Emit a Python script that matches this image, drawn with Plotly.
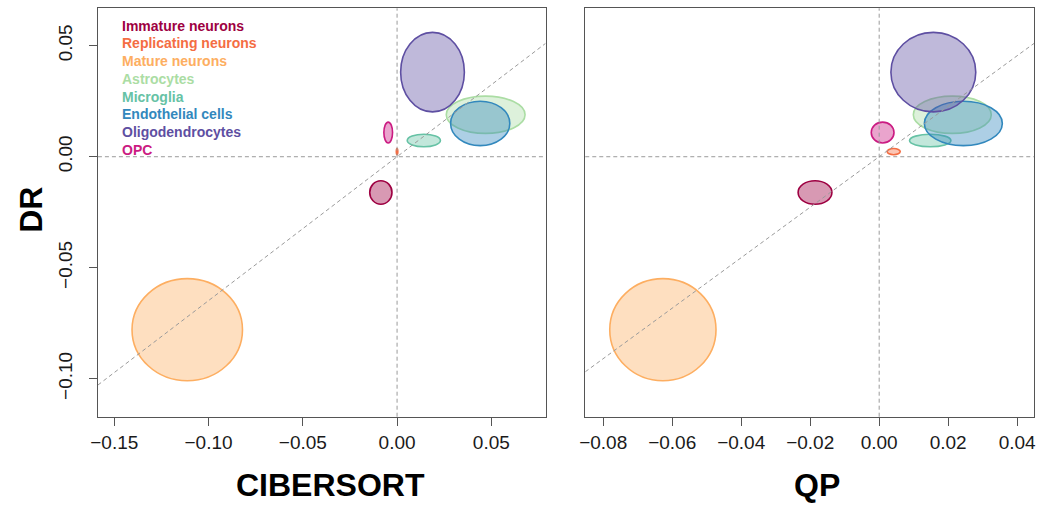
import plotly.graph_objects as go

# ---------------- data ----------------
cell_types = ["Immature neurons", "Replicating neurons", "Mature neurons", "Astrocytes",
              "Microglia", "Endothelial cells", "Oligodendrocytes", "OPC"]
colors = ["#9E0142", "#F46D43", "#FDAE61", "#ABDDA4", "#66C2A5", "#3288BD", "#5E4FA2", "#CB1B82"]

dr_center = [-0.0161, 0.0023, -0.0779, 0.0189, 0.0073, 0.0150, 0.0381, 0.0109]
dr_halfwidth = [0.0053, 0.0014, 0.0230, 0.0084, 0.0028, 0.0100, 0.0179, 0.0047]

cibersort_center = [-0.0086, 0.0000, -0.1113, 0.0470, 0.0142, 0.0441, 0.0188, -0.0047]
cibersort_halfwidth = [0.0059, 0.0004, 0.0293, 0.0209, 0.0088, 0.0157, 0.0169, 0.0023]

qp_center = [-0.0186, 0.0042, -0.0627, 0.0212, 0.0148, 0.0244, 0.0157, 0.0010]
qp_halfwidth = [0.0049, 0.0019, 0.0154, 0.0113, 0.0060, 0.0113, 0.0123, 0.0033]

fit_slope_cibersort = 0.648
fit_slope_qp = 1.137

x1_ticks = [-0.15, -0.10, -0.05, 0.00, 0.05]
x2_ticks = [-0.08, -0.06, -0.04, -0.02, 0.00, 0.02, 0.04]
y_ticks = [-0.10, -0.05, 0.00, 0.05]

x1_range = [-0.1587, 0.0788]
x2_range = [-0.0852, 0.0449]
y_range = [-0.1171, 0.06685]


def fmt(v):
    s = f"{abs(v):.2f}"
    return ("\u2212" + s) if v < -1e-12 else s


def rgba(hexc, a):
    h = hexc.lstrip("#")
    r, g, b = int(h[0:2], 16), int(h[2:4], 16), int(h[4:6], 16)
    return f"rgba({r},{g},{b},{a})"


W, H = 1043, 505
fig = go.Figure()

# invisible traces to anchor both subplots
fig.add_trace(go.Scatter(x=[None], y=[None], xaxis="x", yaxis="y", showlegend=False))
fig.add_trace(go.Scatter(x=[None], y=[None], xaxis="x2", yaxis="y2", showlegend=False))

shapes = []
for xr, yr, cx_list, hw_list in [("x", "y", cibersort_center, cibersort_halfwidth),
                                 ("x2", "y2", qp_center, qp_halfwidth)]:
    for i in range(len(cell_types)):
        shapes.append(dict(
            type="circle", xref=xr, yref=yr,
            x0=cx_list[i] - hw_list[i], x1=cx_list[i] + hw_list[i],
            y0=dr_center[i] - dr_halfwidth[i], y1=dr_center[i] + dr_halfwidth[i],
            fillcolor=rgba(colors[i], 0.4),
            line=dict(color=colors[i], width=1.6),
            layer="above"))

dash_line = dict(color="#9a9a9a", width=1, dash="4px,3px")
for xr, yr, rng, slope in [("x", "y", x1_range, fit_slope_cibersort),
                           ("x2", "y2", x2_range, fit_slope_qp)]:
    shapes.append(dict(type="line", xref=xr, yref=yr + " domain", x0=0, x1=0, y0=0, y1=1,
                       line=dash_line, layer="above"))
    shapes.append(dict(type="line", xref=xr + " domain", yref=yr, x0=0, x1=1, y0=0, y1=0,
                       line=dash_line, layer="above"))
    shapes.append(dict(type="line", xref=xr, yref=yr, x0=rng[0], x1=rng[1],
                       y0=slope * rng[0], y1=slope * rng[1],
                       line=dash_line, layer="above"))

annotations = []
legend_x_px = 114
legend_y0_px = 25.7
legend_step_px = 17.75
for i, name in enumerate(cell_types):
    annotations.append(dict(
        text=f"<b>{name}</b>", xref="paper", yref="paper",
        x=legend_x_px / W, y=1 - (legend_y0_px + i * legend_step_px) / H,
        xanchor="left", yanchor="middle", showarrow=False,
        font=dict(family="Liberation Sans, Arial", size=14, color=colors[i])))

title_font = dict(family="Liberation Sans, Arial", size=32, color="#000000")
annotations.append(dict(text="<b>CIBERSORT</b>", xref="paper", yref="paper",
                        x=326 / W, y=1 - 485 / H, xanchor="center", yanchor="middle",
                        showarrow=False, font=title_font))
annotations.append(dict(text="<b>QP</b>", xref="paper", yref="paper",
                        x=817 / W, y=1 - 485 / H, xanchor="center", yanchor="middle",
                        showarrow=False, font=title_font))
annotations.append(dict(text="<b>DR</b>", xref="paper", yref="paper",
                        x=24 / W, y=1 - 210 / H, xanchor="center", yanchor="middle",
                        textangle=-90, showarrow=False, font=title_font))

tick_font = dict(family="Liberation Sans, Arial", size=19, color="#1a1a1a")
axis_common = dict(showgrid=False, zeroline=False, showline=True, mirror=True,
                   linecolor="#555555", linewidth=1.3, ticks="outside", ticklen=8,
                   tickwidth=1.2, tickcolor="#555555", tickfont=tick_font)

fig.update_layout(
    width=W, height=H,
    margin=dict(l=0, r=0, t=0, b=0),
    paper_bgcolor="white", plot_bgcolor="white",
    showlegend=False,
    xaxis=dict(domain=[91.7 / W, 543.3 / W], range=x1_range, anchor="y",
               tickvals=x1_ticks, ticktext=[fmt(v) for v in x1_ticks], **axis_common),
    yaxis=dict(domain=[1 - 416.7 / H, 1 - 8.3 / H], range=y_range, anchor="x",
               tickvals=y_ticks, ticktext=[fmt(v) for v in y_ticks], tickangle=-90,
               ticklabelstandoff=9, **axis_common),
    xaxis2=dict(domain=[583.3 / W, 1036 / W], range=x2_range, anchor="y2",
                tickvals=x2_ticks, ticktext=[fmt(v) for v in x2_ticks], **axis_common),
    yaxis2=dict(domain=[1 - 416.7 / H, 1 - 8.3 / H], range=y_range, anchor="x2",
                showgrid=False, zeroline=False, showline=True, mirror=True,
                linecolor="#555555", linewidth=1.3, ticks="", showticklabels=False),
    shapes=shapes,
    annotations=annotations,
)

fig.write_html("out.html", config={"displayModeBar": False},
               post_script="document.body.style.margin='0';document.body.style.overflow='hidden';")
